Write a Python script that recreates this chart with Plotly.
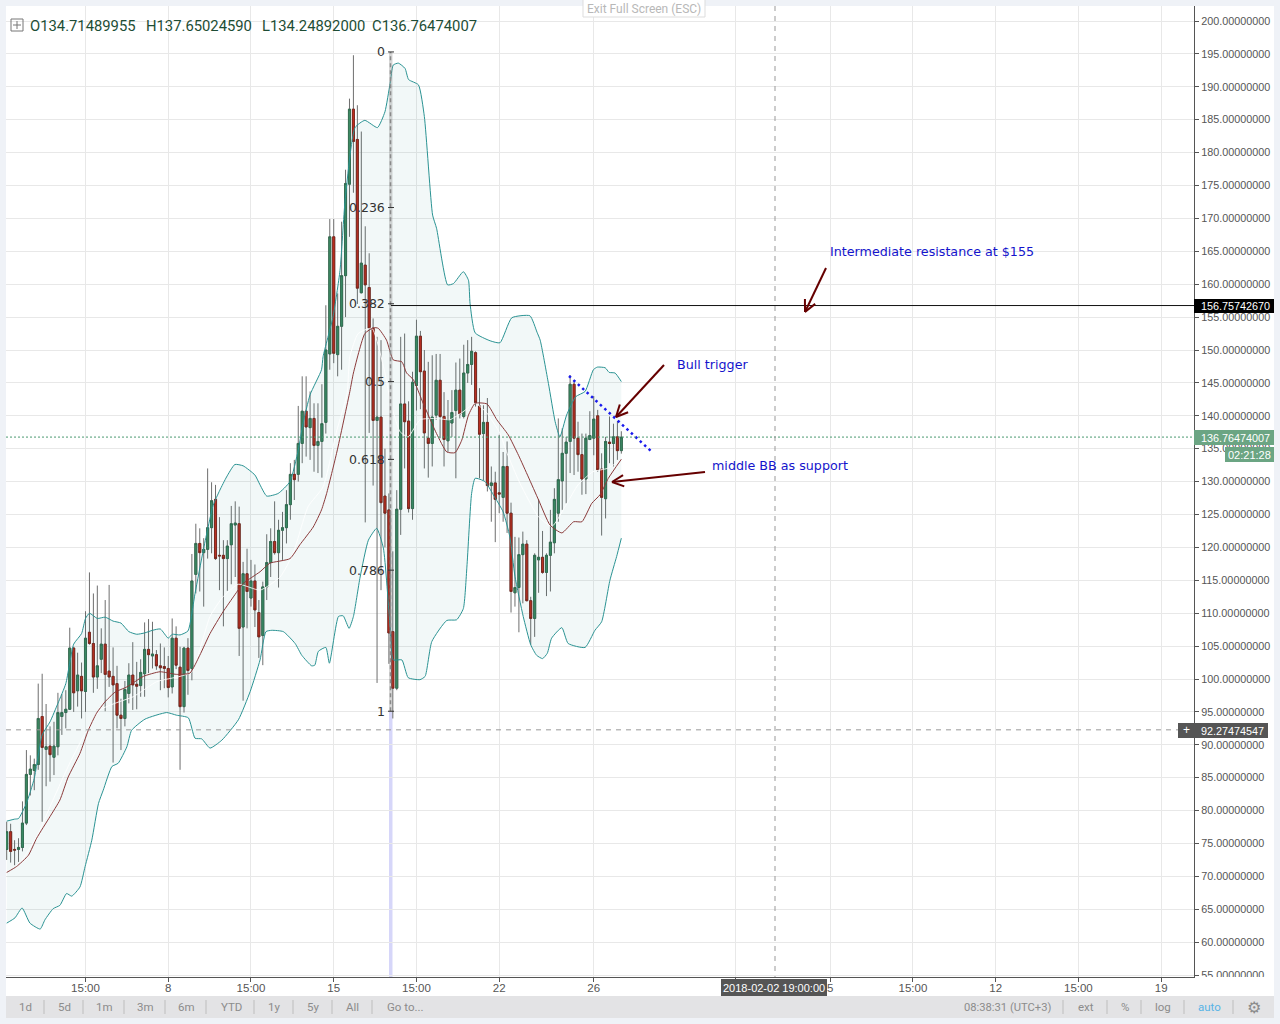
import math
import plotly.graph_objects as go

# ---------- candles (4h bars, index = bar number) ----------
opens = [74.1,76.8,74.1,74.1,74.4,78.1,85.5,86.1,87.0,94.3,89.3,89.8,88.1,89.7,94.3,94.9,95.4,104.7,98.2,100.4,
98.1,107.1,105.4,100.3,103.0,105.3,101.2,100.4,99.3,94.5,94.0,97.8,100.6,99.2,99.0,100.8,104.5,103.5,103.7,102.0,
101.9,101.6,98.8,106.2,101.8,95.8,104.7,101.6,115.9,120.6,119.2,119.7,123.0,127.3,118.8,118.8,118.3,120.4,123.4,123.6,
107.9,116.0,112.3,114.9,110.1,106.6,114.0,117.7,120.9,119.2,122.6,123.0,126.5,131.1,131.1,135.8,140.7,138.2,139.6,135.5,
136.1,139.0,149.4,167.2,149.3,153.6,161.3,175.2,186.6,182.0,158.7,162.9,159.5,153.3,139.3,139.8,127.8,125.7,107.2,98.6,
125.8,141.8,139.2,125.9,144.6,152.1,146.8,136.6,135.8,140.1,145.4,139.9,136.2,138.9,140.8,143.9,139.9,146.5,147.8,149.6,
141.5,137.3,139.0,129.4,129.8,128.3,127.6,132.3,125.2,113.1,113.9,118.9,120.5,111.9,109.2,118.1,118.5,116.2,118.8,120.7,
125.2,130.1,134.3,136.1,144.8,136.6,134.1,130.4,136.4,136.6,140.0,131.9,127.4,136.0,135.8,136.8,134.71]
highs = [78.3,78.0,75.5,75.8,81.4,89.2,88.4,87.9,99.3,100.8,96.2,92.8,93.5,97.9,97.7,98.3,107.8,104.9,104.0,102.5,
110.3,116.2,113.0,114.2,107.7,112.0,114.3,104.8,102.0,97.0,99.7,102.4,105.6,102.6,103.0,108.6,109.1,108.7,104.4,105.4,
104.8,103.5,109.2,108.0,104.9,104.9,106.2,119.0,123.6,122.9,121.4,132.0,129.9,129.5,124.6,121.1,121.1,126.3,127.0,126.2,
117.8,119.8,118.1,117.4,112.0,114.8,122.0,122.9,127.0,124.2,125.4,128.7,132.8,133.3,141.5,146.0,146.0,143.7,141.9,141.9,
144.8,156.8,169.9,169.9,158.6,169.5,177.4,188.2,194.8,187.2,183.2,168.8,164.7,154.8,152.0,151.5,135.0,128.2,119.4,128.7,
152.0,152.5,142.2,146.7,154.6,152.9,150.0,148.2,149.2,149.4,149.4,143.6,142.4,143.9,148.1,148.7,150.8,151.5,152.0,149.8,
144.2,141.6,142.7,132.3,131.5,137.1,134.5,136.1,126.8,121.6,121.5,122.4,121.1,112.5,119.1,127.3,122.5,119.1,125.7,129.0,
139.6,138.1,136.8,146.2,145.2,139.1,137.3,137.3,140.7,143.0,140.9,134.3,136.8,139.9,138.8,139.2,137.65]
lows = [72.5,72.1,71.7,72.2,73.8,77.8,82.3,83.1,86.2,78.3,83.7,84.4,85.4,88.4,91.5,92.5,95.3,95.0,95.8,94.0,
95.0,105.2,97.9,98.5,100.9,95.1,98.8,87.3,92.5,89.2,92.8,96.3,95.3,95.4,97.3,97.3,100.9,101.6,101.4,98.3,
98.6,97.2,97.8,101.5,86.2,94.9,97.6,99.8,113.0,113.3,111.0,118.3,119.1,118.1,113.5,108.0,113.4,114.4,115.5,103.5,
96.7,107.7,111.0,107.9,103.2,102.1,112.0,115.5,118.9,113.9,118.1,120.6,124.2,127.2,130.0,132.8,133.8,133.3,131.5,131.3,
130.6,137.3,147.0,148.0,146.0,147.0,155.0,167.2,173.9,157.0,158.6,123.8,137.4,129.4,99.4,113.5,120.0,102.3,94.0,98.3,
121.9,132.0,125.3,124.2,140.8,141.0,132.0,130.6,132.3,139.4,136.6,132.3,134.5,136.8,130.5,139.6,139.6,145.0,144.7,141.4,
130.5,130.2,128.5,123.9,120.8,125.2,123.9,122.2,110.1,111.0,107.1,111.5,111.8,105.2,106.4,113.1,116.0,112.6,113.3,119.1,
123.9,125.7,126.7,131.3,131.0,131.5,128.0,128.1,136.3,134.0,131.5,121.8,124.4,132.8,132.3,133.3,134.25]
closes = [76.8,73.8,74.0,74.4,78.1,85.5,86.3,87.0,94.0,89.6,89.7,88.5,89.8,94.9,94.9,95.4,104.7,97.9,100.6,98.2,
106.2,105.4,100.3,102.0,105.3,100.7,100.3,99.1,94.5,94.0,98.4,100.6,99.1,98.9,101.0,104.5,103.7,103.8,102.0,101.7,
101.6,98.7,106.2,102.1,95.8,104.7,101.3,114.9,120.6,119.2,119.7,123.0,127.1,118.3,118.7,118.3,120.2,123.6,123.7,107.7,
116.0,113.3,114.9,110.5,106.4,114.0,117.7,120.9,119.2,122.6,123.0,126.5,131.1,130.3,135.8,140.7,138.3,139.6,135.5,136.1,
138.8,150.0,167.2,149.5,153.6,161.3,175.3,186.6,181.7,159.4,163.2,159.9,153.3,139.3,139.8,126.8,125.2,107.0,98.6,125.8,
141.8,139.1,125.9,145.1,152.1,146.7,137.4,135.8,139.8,145.4,139.9,136.4,139.4,140.5,143.9,140.3,146.5,147.8,149.8,142.0,
137.2,139.0,129.4,129.8,127.3,128.1,132.3,125.2,113.3,113.9,118.9,120.5,111.9,109.2,118.8,118.5,116.2,118.8,120.8,127.3,
130.3,134.3,136.0,144.8,136.6,134.1,130.4,136.6,137.0,139.5,131.8,127.6,136.1,135.8,136.8,134.7,136.76]
bar_index = list(range(len(opens)))

# ---------- Bollinger bands and moving average ----------
upper_x = [0,2,3,5,7,9,11,13,15,17,19,20,21,23,25,27,29,31,33,35,37,39,41,42,44,46,47.8,49.9,52.4,54.1,55.8,57.9,60,63,64.3,66,68.9,71.9,74,75.2,77,79.9,80.3,82.8,84.6,85.9,88.4,90.9,94.1,96,97.3,98.1,99.4,101.1,102,104.5,106,108.1,109.1,111.9,113.4,115.9,117.2,117.6,118.9,122.7,125.2,128.2,132.8,134.6,135.4,137.5,139.2,140.4,142.1,144.4,146.8,148.9,149.9,151.9,152.9,154.4,156]
upper_y = [78.4,78.7,78.8,81.1,84.9,91.5,93.5,96.3,99.3,105.3,106.9,109.2,110,109.2,109.4,108.8,108.5,107.2,106.8,107,107.4,107.6,106.2,106.8,106.7,107.3,113,119.6,126.4,128.7,130.7,132.6,132.4,131,129.5,127.8,128.2,130,134.8,138.8,143.2,147,149,155,162.1,172.8,183.8,184.9,183.8,186.2,190.5,193.3,193.6,192.8,191.1,190.3,185.5,170.5,168.5,159.9,160.1,161.9,160.6,157.1,152.6,151.4,151.1,154.9,155.2,152.7,151.5,144.9,139.1,136.8,140.1,142.9,143.7,147,147.4,147.3,146.6,146.5,145.2]
lower_x = [0,2.1,3.9,5.9,8.5,9.7,11.8,13.5,15.2,16.5,18.6,19.9,21.6,23.3,24.5,26.7,28.3,30.5,31.7,35.1,40.6,43.1,46.1,47.8,49.5,51.6,54.6,58.8,61.8,64.3,65.8,67.3,70.2,73.2,74.9,77.4,78.2,79.1,81,81.9,84.2,85.4,86.9,88,89.7,91.8,93.9,95.6,97.3,98.1,100.3,101.9,104.9,106.2,107.9,111.7,114.2,115.9,116.8,118,118.9,121.4,123.5,126,127.7,129,131.1,133,134.5,136,137.2,138.3,140.9,142.5,146.8,149.3,151,153.1,154.8,156]
lower_y = [62.9,63.7,65.2,62.9,62,63.4,65.1,65.6,67.4,67,68.4,71.5,75.5,81.1,83.1,86.7,87.2,89.7,92.2,93.9,94.9,94.5,94.1,91,90.9,89.5,90.7,93.8,98.1,102.9,107.2,107.4,107.2,105.4,103.6,102,102.1,104.2,104.8,102.4,109.5,109.6,107.7,109.5,115.5,121.1,122.9,119.9,108,102.9,102.9,100.2,99.9,100.4,105.7,108.9,109,110.7,117,128.2,130.5,130,128,125.4,121.6,115.6,109.5,105.2,103.6,103.1,103.9,106.2,107.8,105.4,104.8,107.4,108.7,115,118.6,121.4]
mid_x = [0,2.5,5.5,7.6,11,13.5,15.6,18.6,20.7,22.8,24.9,27.5,30.5,34.7,38.9,43.1,46.5,49,51.6,54.9,57.9,60,64.3,66.8,71.9,74.4,77.8,79.9,81.2,83.8,87.1,88,90.9,93.1,94.3,96.4,98.1,100.3,101.5,103.2,105.7,109.1,111.7,113.8,115.5,117.2,118.9,121.9,124.4,127.3,129.9,132.4,135,137.9,140.9,143.9,146,148.5,150.6,152.7,156]
mid_y = [70.6,71.5,73.2,75.8,79.1,81.6,85.1,88.7,92.2,94.8,96.5,98,98.8,100.4,101.1,100.7,100.9,103.6,106.9,110.2,112.8,114.5,116.3,117.6,118.3,120.4,123.1,125.7,128.2,134.5,143.7,146.5,152.5,153.4,153.3,151.5,148.5,148.2,146.5,145.5,141.9,137.3,134.5,134.4,136.3,140.1,141.9,141.8,139.4,137.1,134,130.7,127.2,123.4,122.2,123.9,123.9,126.7,128,130.5,133.4]
sma_x = [3.4,7.6,11,15.6,19.4,23.7,27.9,32.1,38.1,44,47,51.6,54.9,58.8,64.3,69.4,72.7,76.5,80.3,83.8,86.4,87.1,89.2,92.7,96,97.3,99.8,101.9,104.9,109.2,112.5,115.8,118.9,121.9,125.2,127,130.3,134.9,138.4,142.2,145,148.8,152.4,156]
sma_y = [72,76,80.6,86.7,91.2,95.3,96.4,97.3,99.6,100.4,101.1,109.5,112.5,114.4,113.5,115.5,119.1,126.2,129.2,137.8,143.4,149,152.5,153.3,146.5,142.4,137.6,136.8,139.4,139.6,139.4,140.6,141.9,140.4,137.3,134.3,129.7,124.7,123.2,126.7,129.5,131.5,132,133.3]

# ---------- axes, levels, labels ----------
y_ticks = list(range(55, 205, 5))
x_tick_vals = [20,41,62,83,104,125,149,185,209,230,251,272,293]
x_tick_text = ["15:00","8","15:00","15","15:00","22","26","","5","15:00","12","15:00","19"]
fib_levels = [0,0.236,0.382,0.5,0.618,0.786,1]
fib_labels = ["0","0.236","0.382","0.5","0.618","0.786","1"]
fib_high = 195.3
fib_low = 95.1
resistance = 156.75742670
last_price = 136.76474007
cross_price = 92.27474547
header = ["O134.71489955","H137.65024590","L134.24892000","C136.76474007"]
left_tools = ["1d","5d","1m","3m","6m","YTD","1y","5y","All","Go to..."]
right_tools = ["08:38:31 (UTC+3)","ext","%","log","auto","⚙"]
notes = ["Intermediate resistance at $155","Bull trigger","middle BB as support"]

# ---------- pixel helpers for page furniture ----------
L, R, T, B = 6, 1194, 6, 977
def xp(px): return (px - L) / (R - L)
def yp(py): return (B - py) / (B - T)
def ix(px): return (px - 6.7) / 3.94
def pr(py): return 200 - (py - 21) / 6.58

shapes, ann = [], []
def rect(x0, y0, x1, y1, fill, layer="below", line=None):
    shapes.append(dict(type="rect", xref="paper", yref="paper", x0=xp(x0), x1=xp(x1), y0=yp(y0), y1=yp(y1),
                       fillcolor=fill, line=line or dict(width=0), layer=layer))
def seg(x0, y0, x1, y1, color, width=1, dash="solid", layer="above"):
    shapes.append(dict(type="line", xref="paper", yref="paper", x0=xp(x0), x1=xp(x1), y0=yp(y0), y1=yp(y1),
                       line=dict(color=color, width=width, dash=dash), layer=layer))
def text(px, py, s, color="#555", size=11, fam="Liberation Sans", anchor="left", **kw):
    ann.append(dict(xref="paper", yref="paper", x=xp(px), y=yp(py), text=s, showarrow=False, xanchor=anchor,
                    yanchor="middle", font=dict(color=color, size=size, family=fam), borderpad=0, borderwidth=0, **kw))
def arrow(tipx, tipy, tailx, taily, head=13, spread=0.45, color="#660000"):
    seg(tailx, taily, tipx, tipy, color, 2)
    a = math.atan2(taily - tipy, tailx - tipx)
    for d in (-spread, spread):
        seg(tipx, tipy, tipx + head * math.cos(a + d), tipy + head * math.sin(a + d), color, 2)

rect(6, 6, 1274, 996, "#ffffff")
rect(6, 996, 1274, 1018, "#e3e3e5")

# fib band and crosshair, in data coordinates
x_fib0, x_fib1 = ix(389), ix(392.5)
shapes.append(dict(type="rect", x0=x_fib0, x1=x_fib1, y0=fib_low, y1=fib_high, fillcolor="rgba(120,120,120,0.3)",
                   line=dict(width=0), layer="above"))
shapes.append(dict(type="rect", x0=x_fib0, x1=x_fib1, y0=pr(977), y1=fib_low, fillcolor="rgba(120,120,235,0.3)",
                   line=dict(width=0), layer="below"))
shapes.append(dict(type="line", x0=ix(390.5), x1=ix(390.5), y0=fib_low, y1=fib_high,
                   line=dict(color="#8a8a8a", width=1.5, dash="4px,3px"), layer="above"))
shapes.append(dict(type="line", x0=ix(391), x1=ix(1194), y0=resistance, y1=resistance,
                   line=dict(color="#111", width=1), layer="above"))
shapes.append(dict(type="line", x0=ix(6), x1=ix(1194), y0=last_price, y1=last_price,
                   line=dict(color="#4a9a70", width=1, dash="2px,2px"), layer="above"))
shapes.append(dict(type="line", x0=ix(6), x1=ix(1194), y0=cross_price, y1=cross_price,
                   line=dict(color="#999", width=1, dash="5px,5px"), layer="above"))
shapes.append(dict(type="line", x0=ix(775), x1=ix(775), y0=pr(6), y1=pr(977),
                   line=dict(color="#999", width=1, dash="5px,5px"), layer="above"))

for lv, lb in zip(fib_levels, fib_labels):
    pv = fib_high - lv * (fib_high - fib_low)
    shapes.append(dict(type="line", x0=ix(388), x1=ix(394), y0=pv, y1=pv, line=dict(color="#333", width=1), layer="above"))
    ann.append(dict(x=ix(387), y=pv, text=lb, showarrow=False, xanchor="right", yanchor="middle",
                    font=dict(color="#333", size=12.5, family="DejaVu Sans")))

# right scale tags
rect(1194, 299, 1274, 313, "#000000", "above")
text(1201, 306.5, f"{resistance:.8f}", "#fff", 10.8)
rect(1194, 430, 1274, 445, "#6ba583", "above")
text(1201, 437.5, f"{last_price:.8f}", "#fff", 10.8)
rect(1225, 447, 1274, 462, "#6ba583", "above")
text(1228, 455, "02:21:28", "#fff")
rect(1178, 723, 1194, 738, "#555555", "above")
text(1186, 730, "+", "#fff", 12, anchor="center")
rect(1194, 723, 1268, 738, "#555555", "above")
text(1201, 730.5, f"{cross_price:.8f}", "#fff", 10.8)
rect(1196, 977, 1274, 995, "#ffffff", "above")
rect(721, 979, 827, 996, "#555555", "above")
text(773.5, 988, "2018-02-02 19:00:00", "#fff", 11, anchor="center")

# header
rect(11, 19, 23, 31, "rgba(0,0,0,0)", "above", dict(color="#777", width=1))
seg(17, 21, 17, 29, "#777")
seg(13, 25, 21, 25, "#777")
for px_h, s in zip([30, 146, 262, 372], header):
    text(px_h, 26, s, "#1d4d35", 14.8, "Roboto")

# fullscreen hint
rect(583, -3, 705, 17, "#ffffff", "above", dict(color="#dddddd", width=1))
text(644, 9, "Exit Full Screen (ESC)", "#b8b8b8", 12, "Roboto", anchor="center")

# toolbar
for px_t, s in zip([25,64,104,145,186,231,274,313,353,405], left_tools):
    text(px_t, 1007, s, "#8c8c8c", 11.5, "Roboto", anchor="center")
for px_s in [44,83,124,165,206,254,293,332,372]:
    seg(px_s, 1000, px_s, 1014, "#bdbdbd")
for px_t, s, c, sz in zip([1007,1086,1125,1163,1209,1254], right_tools,
                          ["#8c8c8c","#8c8c8c","#8c8c8c","#8c8c8c","#58b4e5","#8c8c8c"], [11.2,11.5,11.5,11.5,11.5,16]):
    text(px_t, 1007, s, c, sz, "DejaVu Sans" if s == "⚙" else "Roboto", anchor="center")
for px_s in [1063,1107,1141,1184,1233]:
    seg(px_s, 1000, px_s, 1014, "#bdbdbd")

# drawings
for (px_n, py_n), s in zip([(830, 251), (677, 364), (712, 465)], notes):
    text(px_n, py_n, s, "#1414cc", 12.7, "DejaVu Sans")
arrow(805, 312, 826, 268)
arrow(616, 417, 664, 365)
arrow(612, 482, 705, 472)

band = dict(color="#2a9393", width=1)
fig = go.Figure()
fig.add_trace(go.Scatter(x=lower_x, y=lower_y, mode="lines", line=dict(shape="spline", smoothing=0.5, **band)))
fig.add_trace(go.Scatter(x=upper_x, y=upper_y, mode="lines", line=dict(shape="spline", smoothing=0.5, **band),
                         fill="tonexty", fillcolor="rgba(0,110,110,0.05)"))
fig.add_trace(go.Candlestick(x=bar_index, open=opens, high=highs, low=lows, close=closes, whiskerwidth=0,
                             increasing=dict(line=dict(color="#6e6e6e", width=1), fillcolor="#3d8a63"),
                             decreasing=dict(line=dict(color="#6e6e6e", width=1), fillcolor="#c22d1f")))
fig.add_trace(go.Candlestick(x=bar_index, open=opens, close=closes,
                             high=[max(a, b) for a, b in zip(opens, closes)],
                             low=[min(a, b) for a, b in zip(opens, closes)], whiskerwidth=0,
                             increasing=dict(line=dict(color="#2f6b4c", width=0.8), fillcolor="#3d8a63"),
                             decreasing=dict(line=dict(color="#7a2015", width=0.8), fillcolor="#c22d1f")))
fig.add_trace(go.Scatter(x=sma_x, y=sma_y, mode="lines", line=dict(color="rgba(255,255,255,0.85)", width=1, shape="spline", smoothing=0.5)))
fig.add_trace(go.Scatter(x=mid_x, y=mid_y, mode="lines", line=dict(color="#8a3a3a", width=1, shape="spline", smoothing=0.5)))
fig.add_trace(go.Scatter(x=[ix(569), ix(652)], y=[pr(376), pr(452)], mode="lines",
                         line=dict(color="#1a1aee", width=2.5, dash="2.5px,3.5px")))

fig.update_layout(
    width=1280, height=1024, margin=dict(l=L, r=1280 - R, t=T, b=1024 - B),
    paper_bgcolor="#eff2f7", plot_bgcolor="#ffffff", showlegend=False, hovermode=False,
    shapes=shapes, annotations=ann, boxmode="overlay", boxgap=0.25,
    xaxis=dict(range=[ix(6), ix(1194)], rangeslider=dict(visible=False), tickmode="array",
               tickvals=x_tick_vals, ticktext=x_tick_text, showgrid=True, gridcolor="#e8e8e8", gridwidth=1,
               zeroline=False, showline=True, linecolor="#555", ticks="outside", ticklen=4, tickcolor="#555",
               ticklabelstandoff=-4,
               tickfont=dict(family="Liberation Sans", size=11.5, color="#555")),
    yaxis=dict(range=[pr(977), pr(6)], side="right", tickmode="array", tickvals=y_ticks, tickformat=".8f",
               showgrid=True, gridcolor="#e8e8e8", gridwidth=1, zeroline=False, showline=True, linecolor="#555",
               ticks="outside", ticklen=4, tickcolor="#555",
               tickfont=dict(family="Liberation Sans", size=10.8, color="#555")),
)
fig.write_html("out.html", config=dict(displayModeBar=False),
               post_script="document.body.style.margin='0';document.body.style.overflow='hidden';")
